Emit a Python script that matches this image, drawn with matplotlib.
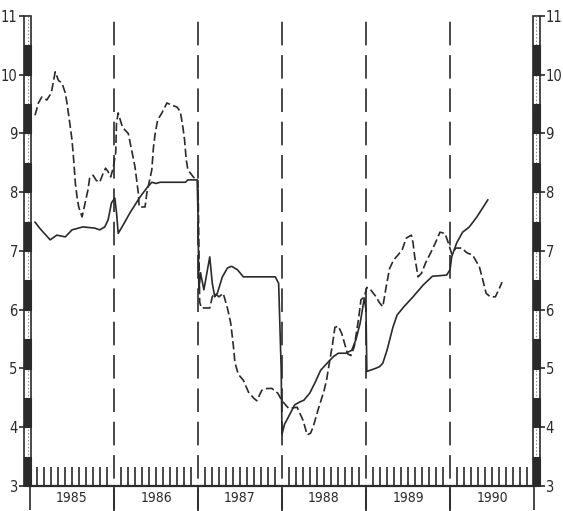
import matplotlib
matplotlib.use("Agg")
import matplotlib.pyplot as plt
from matplotlib.patches import Rectangle
import numpy as np

plt.rcParams['lines.scale_dashes'] = False

# solid series (decimal year, value)
solid_t = [1985.06, 1985.12, 1985.24, 1985.32, 1985.42, 1985.50, 1985.63, 1985.77,
           1985.83, 1985.89, 1985.93, 1985.97, 1986.01, 1986.03, 1986.05, 1986.12,
           1986.19, 1986.27, 1986.31, 1986.40, 1986.45, 1986.50, 1986.55, 1986.85,
           1986.88, 1986.99, 1987.00, 1987.01, 1987.03, 1987.07, 1987.14, 1987.17,
           1987.20, 1987.23, 1987.29, 1987.35, 1987.40, 1987.47, 1987.54, 1987.92,
           1987.96, 1987.99, 1988.00, 1988.03, 1988.10, 1988.15, 1988.21, 1988.26,
           1988.33, 1988.39, 1988.46, 1988.55, 1988.61, 1988.67, 1988.76, 1988.83,
           1988.88, 1988.93, 1988.98, 1989.00, 1989.01, 1989.11, 1989.16, 1989.20,
           1989.25, 1989.32, 1989.37, 1989.45, 1989.56, 1989.68, 1989.79, 1989.96,
           1990.00, 1990.02, 1990.08, 1990.15, 1990.23, 1990.32, 1990.45]
solid_v = [7.49, 7.38, 7.19, 7.27, 7.24, 7.36, 7.41, 7.39,
           7.36, 7.41, 7.53, 7.82, 7.90, 7.65, 7.30, 7.47,
           7.65, 7.83, 7.92, 8.09, 8.17, 8.15, 8.17, 8.17,
           8.21, 8.21, 7.60, 6.34, 6.63, 6.34, 6.90, 6.45,
           6.22, 6.28, 6.56, 6.71, 6.74, 6.68, 6.56, 6.56,
           6.45, 5.00, 3.88, 4.05, 4.24, 4.38, 4.43, 4.46,
           4.58, 4.75, 4.97, 5.11, 5.20, 5.26, 5.26, 5.31,
           5.49, 5.77, 6.20, 6.00, 4.95, 5.00, 5.03, 5.09,
           5.31, 5.70, 5.91, 6.05, 6.22, 6.42, 6.57, 6.59,
           6.68, 6.90, 7.14, 7.32, 7.41, 7.58, 7.87]

# dashed series (decimal year, value)
dash_t = [1985.06, 1985.10, 1985.14, 1985.20, 1985.24, 1985.26, 1985.30, 1985.34,
          1985.38, 1985.42, 1985.44, 1985.48, 1985.50, 1985.52, 1985.54, 1985.56,
          1985.58, 1985.62, 1985.69, 1985.71, 1985.75, 1985.79, 1985.83, 1985.87,
          1985.90, 1985.93, 1985.96, 1985.99, 1986.02, 1986.03, 1986.05, 1986.10,
          1986.13, 1986.17, 1986.21, 1986.25, 1986.27, 1986.29, 1986.30, 1986.37,
          1986.39, 1986.45, 1986.47, 1986.49, 1986.52, 1986.57, 1986.63, 1986.69,
          1986.75, 1986.79, 1986.82, 1986.84, 1986.86, 1986.88, 1986.95, 1987.00,
          1987.02, 1987.04, 1987.14, 1987.17, 1987.20, 1987.25, 1987.30, 1987.35,
          1987.39, 1987.42, 1987.44, 1987.48, 1987.54, 1987.60, 1987.66, 1987.70,
          1987.76, 1987.82, 1987.88, 1987.95, 1988.00, 1988.08, 1988.18, 1988.25,
          1988.30, 1988.34, 1988.37, 1988.43, 1988.50, 1988.53, 1988.57, 1988.60,
          1988.63, 1988.67, 1988.71, 1988.75, 1988.78, 1988.82, 1988.86, 1988.91,
          1988.94, 1988.98, 1989.01, 1989.05, 1989.12, 1989.16, 1989.20, 1989.24,
          1989.28, 1989.33, 1989.38, 1989.43, 1989.48, 1989.54, 1989.56, 1989.58,
          1989.62, 1989.66, 1989.71, 1989.77, 1989.83, 1989.88, 1989.94, 1989.98,
          1990.02, 1990.07, 1990.14, 1990.20, 1990.27, 1990.35, 1990.39, 1990.43,
          1990.48, 1990.54, 1990.58, 1990.62]
dash_v = [9.31, 9.52, 9.62, 9.57, 9.66, 9.74, 10.05, 9.90,
          9.86, 9.69, 9.52, 9.11, 8.89, 8.55, 8.15, 7.92,
          7.75, 7.58, 8.04, 8.24, 8.29, 8.20, 8.17, 8.32,
          8.41, 8.35, 8.26, 8.41, 8.67, 9.18, 9.35, 9.11,
          9.06, 9.00, 8.72, 8.43, 8.21, 7.98, 7.75, 7.75,
          7.98, 8.38, 8.77, 9.00, 9.23, 9.35, 9.52, 9.48,
          9.45, 9.37, 9.11, 8.89, 8.55, 8.38, 8.25, 8.20,
          6.13, 6.03, 6.03, 6.22, 6.28, 6.22, 6.28, 6.03,
          5.77, 5.40, 5.10, 4.90, 4.80, 4.60, 4.50, 4.45,
          4.63, 4.66, 4.66, 4.58, 4.45, 4.32, 4.34, 4.12,
          3.87, 3.90, 4.00, 4.30, 4.62, 4.80, 5.15, 5.40,
          5.70, 5.72, 5.60, 5.40, 5.25, 5.22, 5.37, 5.83,
          6.17, 6.22, 6.38, 6.35, 6.22, 6.12, 6.05, 6.39,
          6.70, 6.85, 6.93, 7.02, 7.22, 7.27, 7.14, 6.90,
          6.56, 6.62, 6.80, 6.97, 7.15, 7.32, 7.30, 7.14,
          6.95, 7.05, 7.05, 6.97, 6.93, 6.73, 6.51, 6.28,
          6.22, 6.22, 6.34, 6.47]

years = [1985, 1986, 1987, 1988, 1989, 1990]
year_labels = ['1985', '1986', '1987', '1988', '1989', '1990']
y_ticks = [3, 4, 5, 6, 7, 8, 9, 10, 11]

ink = '#2a2a2a'
lab_font = ['DejaVu Sans']

fig = plt.figure(figsize=(5.63, 5.11), dpi=100)
ax = fig.add_axes([30 / 563, 25 / 511, 504 / 563, 470 / 511])
ax.set_xlim(1985, 1991)
ax.set_ylim(3, 11)

# year separators
for yr in years[1:]:
    ax.plot([yr, yr], [2.55, 11], color=ink, lw=1.2, linestyle=(0, (17, 7)),
            clip_on=False, zorder=2)

# the two series
ax.plot(solid_t, solid_v, color=ink, lw=1.2, zorder=3)
ax.plot(dash_t, dash_v, color=ink, lw=1.2, linestyle=(0, (6, 2.5)), zorder=3)

# striped side bars
bw = 0.082
for x0 in (1985 - 0.07, 1990.988):
    ax.add_patch(Rectangle((x0, 3), bw, 8, facecolor='white', edgecolor=ink,
                           lw=1.2, clip_on=False, zorder=4))
    ax.plot([x0 + bw / 2] * 2, [3, 11], color='#888888', lw=0.8,
            linestyle=(0, (1, 1.5)), clip_on=False, zorder=4)
    for n in range(3, 11):
        ax.add_patch(Rectangle((x0, n), bw, 0.5, facecolor=ink, edgecolor=ink,
                               lw=0.8, clip_on=False, zorder=5))

for s in ('top', 'left', 'right'):
    ax.spines[s].set_visible(False)
ax.spines['bottom'].set_linewidth(1.6)
ax.spines['bottom'].set_color(ink)
ax.spines['left'].set_position(('outward', 4.5))
ax.spines['right'].set_position(('outward', 4.0))

ax.set_yticks(y_ticks)
ax.set_yticklabels([str(v) for v in y_ticks], family=lab_font, fontsize=10.5,
                   fontstretch='condensed')
ax.tick_params(axis='y', which='both', left=True, right=True, labelleft=True,
               labelright=True, direction='out', length=3.5, width=1.2,
               color=ink, labelcolor=ink, pad=0.8)

ax.set_xticks(years + [1991])
ax.set_xticklabels([])
ax.set_xticks(np.arange(1985, 1991, 1 / 12), minor=True)
ax.tick_params(axis='x', which='major', direction='out', length=17, width=1.2, color=ink)
ax.tick_params(axis='x', which='minor', direction='in', length=13.5, width=1.2, color=ink)

for yr, lab in zip(years, year_labels):
    ax.text(yr + 0.5, 2.8, lab, ha='center', va='center', fontsize=10,
            family=lab_font, fontstretch='condensed', color=ink)

fig.savefig('out.png', dpi=100, facecolor='white')
